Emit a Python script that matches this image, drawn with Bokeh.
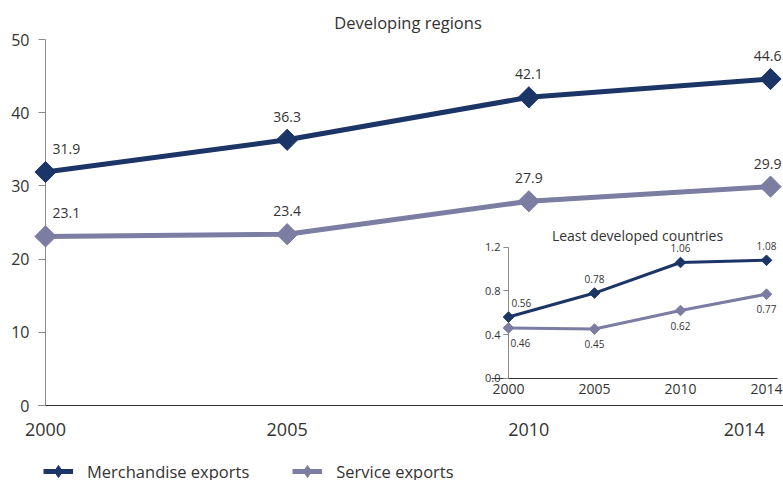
import numpy as np
from bokeh.plotting import figure
from bokeh.models import (Range1d, LinearAxis, FixedTicker, Legend, LegendItem,
                          PrintfTickFormatter)
from bokeh.core.properties import value
from bokeh.embed import file_html
from bokeh.resources import INLINE

# ---------------- data ----------------
years = ["2000", "2005", "2010", "2014"]
dev_merch = [31.9, 36.3, 42.1, 44.6]
dev_serv = [23.1, 23.4, 27.9, 29.9]
ldc_merch = [0.56, 0.78, 1.06, 1.08]
ldc_serv = [0.46, 0.45, 0.62, 0.77]
main_yticks = [0, 10, 20, 30, 40, 50]
inset_yticks = [0.0, 0.4, 0.8, 1.2]
main_title = "Developing regions"
inset_title = "Least developed countries"
series_names = ["Merchandise exports", "Service exports"]

# ---------------- style ----------------
MERCH = "#1b3567"
SERV = "#7b7da2"
TXT = "#333333"
AXG = "#8a8a8a"
FONT = "Open Sans"

W, H = 783, 480
FW, FH = W, H

idx = list(range(len(years)))
labels = {i: y for i, y in zip(idx, years)}


def fit_range(v0, v1, p0, p1, f0, f1):
    """Range whose values v0, v1 land on pixels p0, p1 of a frame spanning f0..f1."""
    k = (v1 - v0) / (p1 - p0)
    return Range1d(v0 + (f0 - p0) * k, v0 + (f1 - p0) * k)


p = figure(width=W, height=H, output_backend="svg", toolbar_location=None,
           x_range=fit_range(idx[0], idx[-1], 45, 770, 0, FW),
           y_range=fit_range(main_yticks[0], main_yticks[-1], 75, 441, 0, FH),
           min_border=0, x_axis_type=None, y_axis_type=None)
p.outline_line_color = None
p.background_fill_color = "white"
p.border_fill_color = "white"

p.extra_x_ranges = {
    "ix": fit_range(idx[0], idx[-1], 508, 766, 0, FW),   # inset
    "lx": fit_range(idx[0], idx[-1], 45, 781, 0, FW),    # last main x label (right aligned)
}
p.extra_y_ranges = {"iy": fit_range(inset_yticks[0], inset_yticks[-1], 102.3, 233.3, 0, FH)}

lab = dict(text_font=value(FONT), text_color=TXT, text_baseline="middle", level="overlay")

# ---------------- title ----------------
p.text(x=[(idx[0] + idx[-1]) / 2], y=[main_yticks[-1]], text=[main_title],
       text_align="center", y_offset=-17, text_font_size="16.5px", **lab)

# ---------------- main axes ----------------
yaxis = LinearAxis(fixed_location=idx[0], bounds=(main_yticks[0], main_yticks[-1]),
                   ticker=FixedTicker(ticks=main_yticks),
                   major_tick_out=7, major_tick_in=0, minor_tick_line_color=None,
                   axis_line_color=AXG, major_tick_line_color=AXG,
                   major_label_text_font=FONT, major_label_text_font_size="16px",
                   major_label_text_color=TXT, major_label_standoff=9)
p.add_layout(yaxis, "left")

xaxis = LinearAxis(fixed_location=main_yticks[0], bounds=(idx[0] - 0.03, 3.06),
                   ticker=FixedTicker(ticks=idx[:-1]),
                   major_label_overrides=labels,
                   major_tick_line_color=None, minor_tick_line_color=None,
                   axis_line_color="#333333",
                   major_label_text_font=FONT, major_label_text_font_size="18px",
                   major_label_text_color=TXT, major_label_standoff=11)
p.add_layout(xaxis, "below")

xaxis_last = LinearAxis(fixed_location=main_yticks[0], x_range_name="lx",
                        ticker=FixedTicker(ticks=idx[-1:]),
                        major_label_overrides=labels, major_label_text_align="right",
                        major_tick_line_color=None, minor_tick_line_color=None,
                        axis_line_color=None,
                        major_label_text_font=FONT, major_label_text_font_size="18px",
                        major_label_text_color=TXT, major_label_standoff=11)
p.add_layout(xaxis_last, "below")

# ---------------- main series ----------------
# plain diamonds (used for the legend glyph) sit fully hidden under the rotated squares
lg_s = p.scatter(idx, dev_serv, marker="diamond", size=18, fill_color=SERV, line_color=SERV)
lg_m = p.scatter(idx, dev_merch, marker="diamond", size=18, fill_color=MERCH, line_color=MERCH)

r_sl = p.line(idx, dev_serv, line_width=5, line_color=SERV, level="overlay")
p.scatter(idx, dev_serv, marker="square", angle=np.pi / 4, size=15,
          fill_color=SERV, line_color=SERV, level="overlay")
r_ml = p.line(idx, dev_merch, line_width=5, line_color=MERCH, level="overlay")
p.scatter(idx, dev_merch, marker="square", angle=np.pi / 4, size=15,
          fill_color=MERCH, line_color=MERCH, level="overlay")

for vals in (dev_merch, dev_serv):
    p.text(x=idx[:1], y=vals[:1], text=[str(v) for v in vals[:1]],
           text_align="left", x_offset=7, y_offset=-23, text_font_size="14px", **lab)
    p.text(x=idx[1:-1], y=vals[1:-1], text=[str(v) for v in vals[1:-1]],
           text_align="center", y_offset=-23, text_font_size="14px", **lab)
    p.text(x=idx[-1:], y=vals[-1:], text=[str(v) for v in vals[-1:]],
           text_align="right", x_offset=11, y_offset=-23, text_font_size="14px", **lab)

# ---------------- inset ----------------
ir = dict(x_range_name="ix", y_range_name="iy")

iyaxis = LinearAxis(fixed_location=idx[0], bounds=(inset_yticks[0], inset_yticks[-1]),
                    ticker=FixedTicker(ticks=inset_yticks),
                    formatter=PrintfTickFormatter(format="%.1f"),
                    major_tick_out=5, major_tick_in=0, minor_tick_line_color=None,
                    axis_line_color=AXG, major_tick_line_color=AXG,
                    major_label_text_font=FONT, major_label_text_font_size="11px",
                    major_label_text_color=TXT, major_label_standoff=3, **ir)
p.add_layout(iyaxis, "left")

ixaxis = LinearAxis(fixed_location=inset_yticks[0], bounds=(-0.2, 3.13),
                    ticker=FixedTicker(ticks=idx),
                    major_label_overrides=labels,
                    major_tick_line_color=None, minor_tick_line_color=None,
                    axis_line_color="#333333",
                    major_label_text_font=FONT, major_label_text_font_size="14px",
                    major_label_text_color=TXT, major_label_standoff=0, **ir)
p.add_layout(ixaxis, "below")

p.line(idx, ldc_serv, line_width=3, line_color=SERV, level="overlay", **ir)
p.scatter(idx, ldc_serv, marker="square", angle=np.pi / 4, size=7.5,
          fill_color=SERV, line_color=SERV, level="overlay", **ir)
p.line(idx, ldc_merch, line_width=3, line_color=MERCH, level="overlay", **ir)
p.scatter(idx, ldc_merch, marker="square", angle=np.pi / 4, size=7.5,
          fill_color=MERCH, line_color=MERCH, level="overlay", **ir)

p.text(x=idx[:1], y=ldc_merch[:1], text=[f"{v:.2f}" for v in ldc_merch[:1]],
       text_align="left", x_offset=3, y_offset=-14, text_font_size="10px", **lab, **ir)
p.text(x=idx[1:], y=ldc_merch[1:], text=[f"{v:.2f}" for v in ldc_merch[1:]],
       text_align="center", y_offset=-14, text_font_size="10px", **lab, **ir)
p.text(x=idx[:1], y=ldc_serv[:1], text=[f"{v:.2f}" for v in ldc_serv[:1]],
       text_align="left", x_offset=2, y_offset=15, text_font_size="10px", **lab, **ir)
p.text(x=idx[1:], y=ldc_serv[1:], text=[f"{v:.2f}" for v in ldc_serv[1:]],
       text_align="center", y_offset=15, text_font_size="10px", **lab, **ir)

p.text(x=[(idx[0] + idx[-1]) / 2], y=[inset_yticks[-1]], text=[inset_title],
       text_align="center", y_offset=-12, text_font_size="14px", **lab, **ir)

# ---------------- legend ----------------
legend = Legend(items=[LegendItem(label=series_names[0], renderers=[r_ml, lg_m]),
                       LegendItem(label=series_names[1], renderers=[r_sl, lg_s])],
                orientation="horizontal", location=(43, -6),
                glyph_width=30, glyph_height=30, label_standoff=14, spacing=43,
                padding=0, margin=0, border_line_color=None, background_fill_alpha=0,
                label_text_font=FONT, label_text_font_size="16.5px", label_text_color=TXT)
p.add_layout(legend)

open("out.html", "w").write(file_html(p, INLINE))
